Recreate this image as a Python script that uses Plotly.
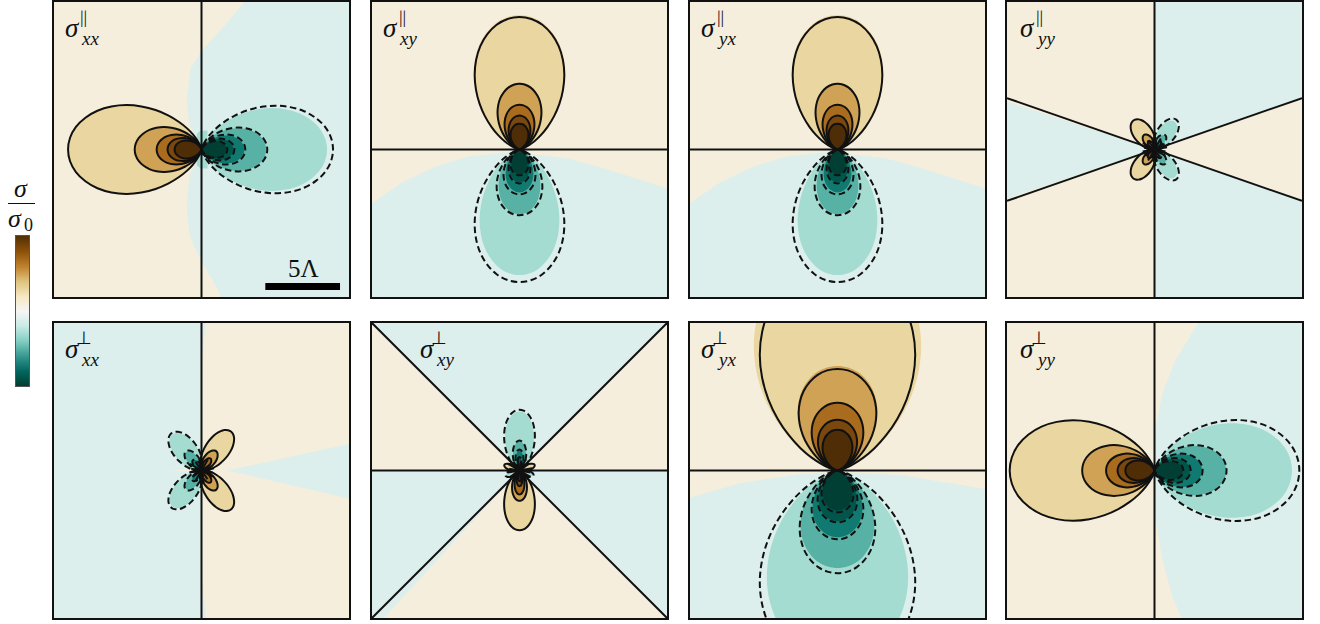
import numpy as np
import plotly.graph_objects as go

W_PX, H_PX = 1320, 624
PANEL_LEFT = [54, 372, 690, 1007]
PANEL_TOP = [2, 323]
PANEL_SIZE = 295
HALF = 9.87   # half width of a panel, in units of Lambda

BEIGE = "#f5eedc"
TEAL = "#dcefec"
BROWNS = ["#ead6a1", "#cfa255", "#a96b1e", "#7a480d", "#4f2d06"]
TEALS = ["#a4dcd2", "#58b1a5", "#117a70", "#01564c", "#013e33"]
CBAR_LEVELS = [5, 4, 3, 2, 1, 0, -1, -2, -3, -4, -5]
CBAR_COLORS = ["#543005", "#8c510a", "#bf812d", "#dfc27d", "#f6e8c3", "#f5f5f5",
               "#c7eae5", "#80cdc1", "#35978f", "#01665e", "#003c30"]

# Outline of a lobe: position along the axis, half width
PROFILE_T = [0, .0137, .0625, .108, .171, .25, .344, .45, .5625, .675, .78, .87, .941, .985, 1]
PROFILE_W = [0, .116, .333, .476, .626, .769, .889, .97, 1, .968, .874, .717, .51, .265, 0]

# Lobes: angle, sign, fill lengths, fill widths, line lengths, line widths
XX_PAR_LOBES = [
    (180, 1, [8.93, 4.47, 3.00, 2.27, 1.80], [2.97, 1.50, 1.00, .77, .60],
     [8.93, 4.47, 3.00, 2.27, 1.80], [2.97, 1.50, 1.00, .77, .60]),
    (0, -1, [8.40, 4.33, 2.87, 2.13, 1.67], [2.77, 1.43, .93, .70, .57],
     [8.80, 4.40, 2.93, 2.20, 1.73], [2.93, 1.47, 1.00, .73, .57]),
]
XY_PAR_LOBES = [
    (90, 1, [9.00, 4.47, 3.00, 2.27, 1.73], [3.07, 1.50, 1.00, .73, .60],
     [8.87, 4.40, 3.00, 2.27, 1.73], [3.00, 1.47, 1.00, .73, .60]),
    (270, -1, [8.40, 4.33, 2.87, 2.20, 1.67], [2.67, 1.40, .93, .67, .53],
     [8.87, 4.40, 3.00, 2.27, 1.73], [3.00, 1.53, 1.07, .73, .60]),
]
YX_PAR_LOBES = XY_PAR_LOBES
YY_PAR_LOBES = [
    (126, 1, [2.4, 1.2, .7], [.63, .3, .15], [2.4, 1.2, .7], [.63, .3, .15]),
    (234, 1, [2.4, 1.2, .7], [.63, .3, .15], [2.4, 1.2, .7], [.63, .3, .15]),
    (54, -1, [2.3, 1.15, .7], [.56, .27, .15], [2.47, 1.2, .7], [.62, .3, .15]),
    (306, -1, [2.3, 1.15, .7], [.56, .27, .15], [2.47, 1.2, .7], [.62, .3, .15]),
]
XX_PERP_LOBES = [
    (53, 1, [3.27, 1.62, 1.0], [.8, .4, .22], [3.27, 1.62, 1.0], [.8, .4, .22]),
    (307, 1, [3.27, 1.62, 1.0], [.8, .4, .22], [3.27, 1.62, 1.0], [.8, .4, .22]),
    (129, -1, [3.1, 1.6, .9], [.75, .36, .2], [3.2, 1.65, .9], [.8, .4, .2]),
    (231, -1, [3.1, 1.6, .9], [.75, .36, .2], [3.2, 1.65, .9], [.8, .4, .2]),
]
XY_PERP_LOBES = [
    (90, -1, [3.95, 1.95, 1.35, .85], [.97, .43, .25, .14], [4.07, 2.0, 1.4, .9], [1.03, .45, .27, .15]),
    (270, 1, [4.0, 2.03, 1.6, 1.05, .7], [1.03, .5, .33, .2, .13], [4.0, 2.03, 1.6, 1.05, .7], [1.03, .5, .33, .2, .13]),
    (20, 1, [1.08], [.2], [1.08], [.2]),
    (160, 1, [1.08], [.2], [1.08], [.2]),
    (200, -1, [.95], [.18], [1.0], [.2]),
    (340, -1, [.95], [.18], [1.0], [.2]),
]
YX_PERP_LOBES = [
    (90, 1, [14.8, 7.0, 4.53, 3.4, 2.73], [5.6, 2.67, 1.73, 1.31, 1.0],
     [13.8, 6.8, 4.53, 3.4, 2.73], [5.2, 2.6, 1.73, 1.31, 1.0]),
    (270, -1, [12.67, 6.53, 4.47, 3.4, 2.67], [4.73, 2.47, 1.67, 1.27, 1.0],
     [13.33, 6.87, 4.6, 3.47, 2.8], [5.2, 2.53, 1.73, 1.33, 1.07]),
]
YY_PERP_LOBES = [
    (180, 1, [9.69, 4.84, 3.24, 2.47, 1.95], [3.36, 1.7, 1.13, .83, .67],
     [9.69, 4.84, 3.24, 2.47, 1.95], [3.36, 1.7, 1.13, .83, .67]),
    (0, -1, [9.2, 4.8, 3.18, 2.38, 1.9], [3.17, 1.65, 1.1, .8, .6],
     [9.69, 4.82, 3.22, 2.42, 1.93], [3.38, 1.7, 1.13, .83, .63]),
]

# Regions of the opposite sign (x, y in Lambda)
XX_PAR_TEAL_X = [2.87, 1.53, 0, -.73, -1, -.8, -.2, -.2, -.8, -1, -.8, 0, .73, 1.33, 9.87, 9.87]
XX_PAR_TEAL_Y = [9.87, 8.27, 6.6, 5.4, 3.27, 1.6, .6, -.6, -1.73, -3.73, -5.73, -7.53, -8.73, -9.87, -9.87, 9.87]
XX_PAR_BLOB_X = [.4, -.1, -.3, -.37, -.37, -.3, -.1, .4]
XX_PAR_BLOB_Y = [1.27, 1.25, 1.05, .5, -.5, -1.05, -1.25, -1.27]
XY_PAR_TEAL_X = [-9.87, -7.87, -5.6, -3.4, -1.2, -.3, 1.07, 3.27, 5.47, 7.73, 9.87, 9.87, -9.87]
XY_PAR_TEAL_Y = [-3.6, -2.2, -1.13, -.47, -.22, -.15, -.33, -.6, -1.2, -1.93, -2.6, -9.87, -9.87]
YY_PAR_TEAL_X = [0, 0, 9.87, 9.87, None, 0, -9.87, -9.87, None, 0, 9.87, 9.87, 0]
YY_PAR_TEAL_Y = [0, 9.87, 9.87, 3.4, None, 0, 3.2, -3.3, None, 0, -3.4, -9.87, -9.87]
XX_PERP_BEIGE_X = [.31, 0, 0, .31, 9.87, 9.87]
XX_PERP_BEIGE_Y = [9.87, 7.17, -7.2, -9.87, -9.87, 9.87]
XX_PERP_WEDGE_X = [1.73, 9.87, 9.87]
XX_PERP_WEDGE_Y = [0, 1.77, -1.87]
XX_PERP_TIP_X = [-2.2, -.33, -.33]
XX_PERP_TIP_Y = [0, .1, -.1]
XY_PERP_TEAL_X = [0, -9.87, 9.87, None, 0, -9.87, -9.87, -9.07, None, 0, 9.87, 9.87]
XY_PERP_TEAL_Y = [0, 9.87, 9.87, None, 0, 0, -9.87, -9.87, None, 0, 0, -9.87]
YX_PERP_TEAL_X = [-9.87, -6.47, -2.47, 0, 4.2, 9.87, 9.87, -9.87]
YX_PERP_TEAL_Y = [-1.83, -.83, -.23, -.1, -.3, -1.23, -9.87, -9.87]
YY_PERP_TEAL_X = [2.91, 1.4, .53, 0, -.03, 0, .53, 1.2, 1.8, 9.87, 9.87]
YY_PERP_TEAL_Y = [9.87, 7.37, 5.17, 2.5, 0, -2.83, -5.97, -8.43, -9.87, -9.87, 9.87]

# Zero contours
VERT_X, VERT_Y = [0, 0], [-9.87, 9.87]
HORI_X, HORI_Y = [-9.87, 9.87], [0, 0]
STAR_YY_X = [0, 0, None, -9.87, 9.87, None, -9.87, 9.87]
STAR_YY_Y = [-9.87, 9.87, None, 3.44, -3.44, None, -3.44, 3.44]
STAR_XY_X = [-9.87, 9.87, None, -9.87, 9.87, None, -9.87, 9.87]
STAR_XY_Y = [0, 0, None, 9.87, -9.87, None, -9.87, 9.87]

# Numerical noise of the contours round the centre: angle, length
NOISE_ANGLE = [10, 35, 60, 80, 100, 125, 150, 170, 190, 215, 240, 260, 280, 305, 330, 350]
NOISE_LEN = [.85, .7, .85, .65, .8, .7, .9, .7, .8, .75, .85, .6, .85, .7, .85, .75]

SCALE_X = [4.27, 9.27]
SCALE_Y = [-9.17, -9.17]

PANELS = [
    dict(row=0, col=0, base=BEIGE, regions=[(TEAL, XX_PAR_TEAL_X, XX_PAR_TEAL_Y), (TEALS[0], XX_PAR_BLOB_X, XX_PAR_BLOB_Y)],
         lobes=XX_PAR_LOBES, zero=(VERT_X, VERT_Y), sup="||", sub="xx", dx=10, noise=False),
    dict(row=0, col=1, base=BEIGE, regions=[(TEAL, XY_PAR_TEAL_X, XY_PAR_TEAL_Y)],
         lobes=XY_PAR_LOBES, zero=(HORI_X, HORI_Y), sup="||", sub="xy", dx=10, noise=False),
    dict(row=0, col=2, base=BEIGE, regions=[(TEAL, XY_PAR_TEAL_X, XY_PAR_TEAL_Y)],
         lobes=YX_PAR_LOBES, zero=(HORI_X, HORI_Y), sup="||", sub="yx", dx=10, noise=False),
    dict(row=0, col=3, base=BEIGE, regions=[(TEAL, YY_PAR_TEAL_X, YY_PAR_TEAL_Y)],
         lobes=YY_PAR_LOBES, zero=(STAR_YY_X, STAR_YY_Y), sup="||", sub="yy", dx=12, noise=True),
    dict(row=1, col=0, base=TEAL, regions=[(BEIGE, XX_PERP_BEIGE_X, XX_PERP_BEIGE_Y), (TEAL, XX_PERP_WEDGE_X, XX_PERP_WEDGE_Y), (BEIGE, XX_PERP_TIP_X, XX_PERP_TIP_Y)],
         lobes=XX_PERP_LOBES, zero=(VERT_X, VERT_Y), sup="⊥", sub="xx", dx=10, noise=True),
    dict(row=1, col=1, base=BEIGE, regions=[(TEAL, XY_PERP_TEAL_X, XY_PERP_TEAL_Y)],
         lobes=XY_PERP_LOBES, zero=(STAR_XY_X, STAR_XY_Y), sup="⊥", sub="xy", dx=47, noise=True),
    dict(row=1, col=2, base=BEIGE, regions=[(TEAL, YX_PERP_TEAL_X, YX_PERP_TEAL_Y)],
         lobes=YX_PERP_LOBES, zero=(HORI_X, HORI_Y), sup="⊥", sub="yx", dx=10, noise=False),
    dict(row=1, col=3, base=BEIGE, regions=[(TEAL, YY_PERP_TEAL_X, YY_PERP_TEAL_Y)],
         lobes=YY_PERP_LOBES, zero=(VERT_X, VERT_Y), sup="⊥", sub="yy", dx=12, noise=False),
]

FONT = "Liberation Serif"
LINE_W = 2


def lobe(angle, length, width):
    t = np.array(PROFILE_T) * length
    w = np.array(PROFILE_W) * width
    a = np.r_[t, t[-2::-1]]
    b = np.r_[w, -w[-2::-1]]
    th = np.radians(angle)
    return a * np.cos(th) - b * np.sin(th), a * np.sin(th) + b * np.cos(th)


def px(x):
    return x / W_PX


def py(y):
    return 1 - y / H_PX


fig = go.Figure()
layout = dict(
    width=W_PX, height=H_PX, margin=dict(l=0, r=0, t=0, b=0),
    paper_bgcolor="white", plot_bgcolor="white", showlegend=False,
)
annotations, shapes = [], []


def note(x, y, text, size, angle=0):
    annotations.append(dict(x=px(x), y=py(y), xref="paper", yref="paper", text=text, showarrow=False,
                            textangle=angle, xanchor="center", yanchor="middle",
                            font=dict(family=FONT, size=size, color="#111111")))


for i, p in enumerate(PANELS):
    n = "" if i == 0 else str(i + 1)
    xa, ya = "x" + n, "y" + n
    left, top = PANEL_LEFT[p["col"]], PANEL_TOP[p["row"]]
    axis = dict(range=[-HALF, HALF], showgrid=False, zeroline=False, showticklabels=False, ticks="",
                showline=True, mirror=True, linecolor="#111111", linewidth=2, layer="above traces")
    layout["xaxis" + n] = dict(axis, domain=[px(left), px(left + PANEL_SIZE)], anchor=ya)
    layout["yaxis" + n] = dict(axis, domain=[py(top + PANEL_SIZE), py(top)], anchor=xa)

    def add(x, y, **kw):
        fig.add_trace(go.Scatter(x=x, y=y, xaxis=xa, yaxis=ya, mode="lines", hoverinfo="skip", **kw))

    add([-HALF, HALF, HALF, -HALF], [-HALF, -HALF, HALF, HALF], fill="toself", fillcolor=p["base"], line=dict(width=0))
    for color, rx, ry in p["regions"]:
        add(rx, ry, fill="toself", fillcolor=color, line=dict(width=0))
    for angle, sign, fl, fw, ll, lw in p["lobes"]:
        ramp = BROWNS if sign > 0 else TEALS
        for k, (a, b) in enumerate(zip(fl, fw)):
            x, y = lobe(angle, a, b)
            add(x, y, fill="toself", fillcolor=ramp[k], line=dict(width=0, shape="spline"))
    for angle, sign, fl, fw, ll, lw in p["lobes"]:
        for a, b in zip(ll, lw):
            x, y = lobe(angle, a, b)
            add(x, y, line=dict(color="#111111", width=LINE_W, shape="spline", dash="solid" if sign > 0 else "6.5px,3.5px"))
    if p["noise"]:
        nx, ny = [], []
        for a, r in zip(NOISE_ANGLE, NOISE_LEN):
            nx += [0, r * np.cos(np.radians(a)), None]
            ny += [0, r * np.sin(np.radians(a)), None]
        add(nx, ny, line=dict(color="#111111", width=2))
    add(p["zero"][0], p["zero"][1], line=dict(color="#111111", width=LINE_W))
    if i == 0:
        add(SCALE_X, SCALE_Y, line=dict(color="black", width=7))

    base = left + p["dx"]
    note(base + 8, top + 26, "<i>σ</i>", 27)
    note(base + 20, top + 14.5, p["sup"], 18, angle=0.3)
    note(base + 26, top + 36.5, "<i>%s</i>" % p["sub"], 19)

note(303, 268, "5Λ", 25)

# Colour bar
fig.add_trace(go.Heatmap(z=[[v, v] for v in CBAR_LEVELS], x=[0, 1], y=CBAR_LEVELS, xaxis="x9", yaxis="y9",
                         colorscale=[[j / 10, c] for j, c in enumerate(reversed(CBAR_COLORS))],
                         zmin=-5, zmax=5, zsmooth="best", showscale=False, hoverinfo="skip"))
cbar_axis = dict(showgrid=False, zeroline=False, showticklabels=False, ticks="", showline=True, mirror=True,
                 linecolor="#555555", linewidth=1)
layout["xaxis9"] = dict(cbar_axis, domain=[px(16), px(29)], anchor="y9", range=[0, 1])
layout["yaxis9"] = dict(cbar_axis, domain=[py(386), py(236)], anchor="x9", range=[-5, 5])

note(21, 188.5, "<i>σ</i>", 26)
note(15, 218.5, "<i>σ</i>", 26)
note(28.5, 225, "0", 18)
shapes.append(dict(type="line", xref="paper", yref="paper", x0=px(8), x1=px(35), y0=py(203.5), y1=py(203.5),
                   line=dict(color="#111111", width=1)))

layout["annotations"] = annotations
layout["shapes"] = shapes
fig.update_layout(**layout)
fig.write_html("out.html", config=dict(displayModeBar=False),
               post_script="document.body.style.margin='0';document.documentElement.style.overflow='hidden';")
